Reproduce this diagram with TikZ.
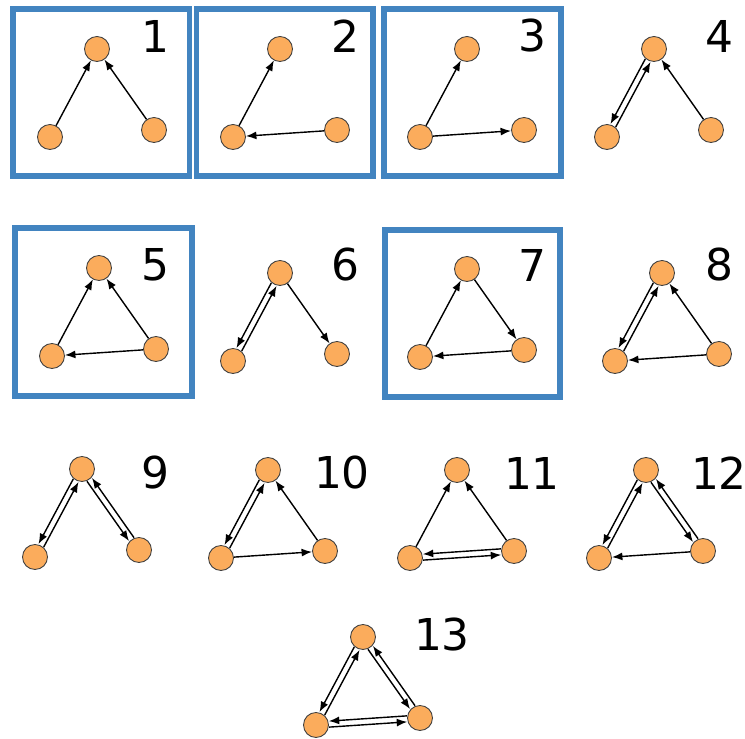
\documentclass[tikz,border=0pt]{standalone}
\usepackage{xcolor}
\usepackage{fontspec}
\setmainfont{DejaVu Sans}
\usepackage{tikz}
\usetikzlibrary{arrows.meta, calc}
\definecolor{motifblue}{RGB}{66, 132, 192}
\definecolor{dotorange}{RGB}{251, 172, 92}

\newcommand{\dotr}{0.26cm}
\newcommand{\edgegap}{0.06cm}
\newcommand{\biedge}[2]{%
    \draw[arr] ($(#1)!\dotr!(#2)!\edgegap!-90:(#2)$) -- ($(#2)!\dotr!(#1)!\edgegap!90:(#1)$);
    \draw[arr] ($(#2)!\dotr!(#1)!\edgegap!-90:(#1)$) -- ($(#1)!\dotr!(#2)!\edgegap!90:(#2)$);}

\begin{document}
\begin{tikzpicture}[
    x=0.02cm, y=-0.02cm,
    dot/.style={circle, draw=black!75, line width=0.5pt, fill=dotorange,
                minimum size=0.5cm, inner sep=0pt},
    num/.style={inner sep=0pt, font=\fontsize{25}{30}\selectfont},
    frame/.style={draw=motifblue, line width=0.12cm},
    arr/.style={-{Latex[length=2.1mm, width=1.6mm]}, line width=0.8pt, color=black},
]
    \useasboundingbox (0,0) rectangle (745,739);

    % blue frames
    \draw[frame] (13,9) rectangle (189.5,176);
    \draw[frame] (196.5,9) rectangle (373,176);
    \draw[frame] (384,9) rectangle (561,176);
    \draw[frame] (15,228.5) rectangle (192,396);
    \draw[frame] (385,230) rectangle (560,397);

    % three nodes per motif
    \foreach \i/\x/\y in {1/97/49, 2/280/49, 3/467/49, 4/654/49,
                          5/99/268, 6/280/273, 7/467/269, 8/662/273,
                          9/82/469, 10/268/470, 11/457/470, 12/646/470,
                          13/363/637} {
        \node[dot] (t\i) at (\x,\y) {};
        \node[dot] (l\i) at (\x-47,\y+88) {};
        \node[dot] (r\i) at (\x+57,\y+81) {};
    }

    % motif numbers
    \foreach \i/\x/\y in {1/155/36, 2/345/36, 3/532/36, 4/719/36,
                          5/155/265, 6/345/265, 7/532/265, 8/719/265,
                          9/155/473, 10/342/473, 11/532/473, 12/719/473,
                          13/442/635}
        \node[num] (n\i) at (\x,\y) {\i};

    \draw[arr] (l1) -- (t1);
    \draw[arr] (r1) -- (t1);

    \draw[arr] (l2) -- (t2);
    \draw[arr] (r2) -- (l2);

    \draw[arr] (l3) -- (t3);
    \draw[arr] (l3) -- (r3);

    \biedge{l4}{t4}
    \draw[arr] (r4) -- (t4);

    \draw[arr] (l5) -- (t5);
    \draw[arr] (r5) -- (t5);
    \draw[arr] (r5) -- (l5);

    \biedge{l6}{t6}
    \draw[arr] (t6) -- (r6);

    \draw[arr] (l7) -- (t7);
    \draw[arr] (t7) -- (r7);
    \draw[arr] (r7) -- (l7);

    \biedge{l8}{t8}
    \draw[arr] (r8) -- (t8);
    \draw[arr] (r8) -- (l8);

    \biedge{l9}{t9}
    \biedge{t9}{r9}

    \biedge{l10}{t10}
    \draw[arr] (r10) -- (t10);
    \draw[arr] (l10) -- (r10);

    \draw[arr] (l11) -- (t11);
    \draw[arr] (r11) -- (t11);
    \biedge{l11}{r11}

    \biedge{l12}{t12}
    \biedge{t12}{r12}
    \draw[arr] (r12) -- (l12);

    \biedge{l13}{t13}
    \biedge{t13}{r13}
    \biedge{l13}{r13}
\end{tikzpicture}
\end{document}
